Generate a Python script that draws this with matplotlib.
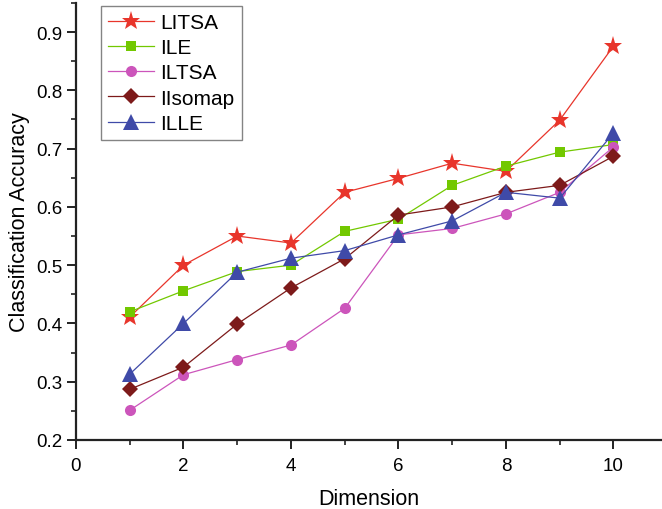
"""Classification accuracy versus embedding dimension."""

import matplotlib

matplotlib.use("Agg")
import matplotlib.pyplot as plt
from matplotlib.ticker import MultipleLocator

plt.rcParams["font.family"] = ["Liberation Sans", "DejaVu Sans"]

dimensions = [1, 2, 3, 4, 5, 6, 7, 8, 9, 10]

litsa = [0.411, 0.500, 0.550, 0.538, 0.625, 0.649, 0.675, 0.661, 0.749, 0.876]
ile = [0.420, 0.456, 0.489, 0.500, 0.558, 0.579, 0.637, 0.670, 0.694, 0.707]
iltsa = [0.251, 0.312, 0.338, 0.363, 0.426, 0.552, 0.563, 0.588, 0.625, 0.703]
iisomap = [0.287, 0.325, 0.399, 0.461, 0.511, 0.586, 0.600, 0.625, 0.637, 0.687]
ille = [0.313, 0.400, 0.488, 0.512, 0.525, 0.552, 0.576, 0.625, 0.615, 0.727]

series = [
    ("LITSA", litsa, "#e8352b", "*", 14),
    ("ILE", ile, "#72c800", "s", 7),
    ("ILTSA", iltsa, "#cc55bb", "o", 8),
    ("IIsomap", iisomap, "#7d1a1a", "D", 8.5),
    ("ILLE", ille, "#3f4aa8", "^", 11),
]

fig = plt.figure(figsize=(6.62, 5.1), dpi=100)
ax = fig.add_axes([0.1148, 0.1353, 0.885, 0.857])

for name, values, color, marker, size in series:
    ax.plot(
        dimensions,
        values,
        color=color,
        linewidth=0.9,
        marker=marker,
        markersize=size,
        markeredgewidth=0,
        label=name,
    )

ax.set_xlim(0, 10.9)
ax.set_ylim(0.2, 0.95)
ax.xaxis.set_major_locator(MultipleLocator(2))
ax.xaxis.set_minor_locator(MultipleLocator(1))
ax.yaxis.set_minor_locator(MultipleLocator(0.05))
ax.set_yticks([0.2, 0.3, 0.4, 0.5, 0.6, 0.7, 0.8, 0.9])
ax.set_yticklabels(["0.2", "0.3", "0.4", "0.5", "0.6", "0.7", "0.8", "0.9"])

for side in ("top", "right"):
    ax.spines[side].set_visible(False)
for side in ("left", "bottom"):
    ax.spines[side].set_linewidth(1.6)
    ax.spines[side].set_color("#222222")

ax.tick_params(which="major", direction="out", length=6.5, width=1.4,
               labelsize=13.5, color="#222222")
ax.tick_params(axis="x", which="major", pad=6)
ax.tick_params(axis="y", which="major", pad=3)
ax.tick_params(which="minor", direction="out", length=3.5, width=1.2,
               color="#222222")

ax.set_xlabel("Dimension", fontsize=15.5, labelpad=10)
ax.set_ylabel("Classification Accuracy", fontsize=15.5, labelpad=5)

legend = ax.legend(
    loc="upper left",
    bbox_to_anchor=(0.043, 0.994),
    fontsize=15,
    frameon=True,
    fancybox=False,
    handlelength=2.2,
    handletextpad=0.3,
    labelspacing=0.3,
    borderpad=0.35,
    borderaxespad=0,
)
legend.get_frame().set_edgecolor("#666666")
legend.get_frame().set_linewidth(1.0)

fig.savefig("out.png", dpi=100)
